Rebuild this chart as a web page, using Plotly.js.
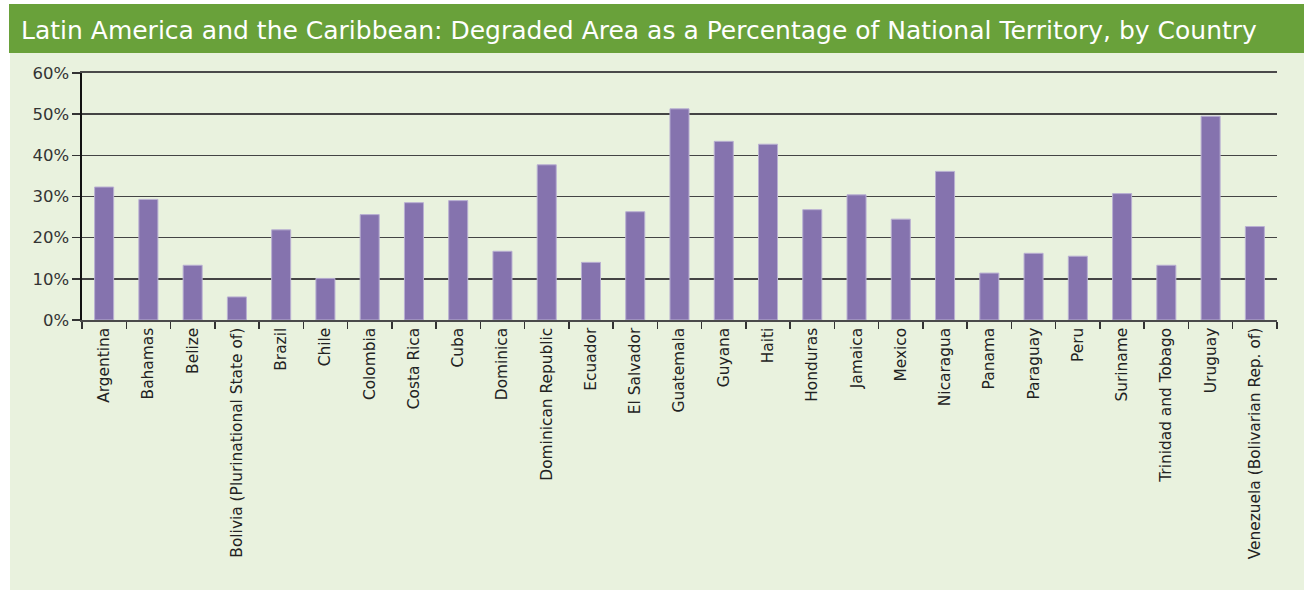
<!DOCTYPE html>
<html>
<head>
<meta charset="utf-8">
<script src="https://cdn.plot.ly/plotly-3.0.1.min.js"></script>
<style>
html,body{margin:0;padding:0;background:#ffffff;}
#chart{width:1304px;height:591px;}
</style>
</head>
<body>
<div id="chart"></div>
<script>
var countries = ["Argentina","Bahamas","Belize","Bolivia (Plurinational State of)","Brazil","Chile","Colombia","Costa Rica","Cuba","Dominica","Dominican Republic","Ecuador","El Salvador","Guatemala","Guyana","Haiti","Honduras","Jamaica","Mexico","Nicaragua","Panama","Paraguay","Peru","Suriname","Trinidad and Tobago","Uruguay","Venezuela (Bolivarian Rep. of)"];
var degradedShare = [32.3, 29.3, 13.3, 5.6, 21.9, 10.1, 25.6, 28.5, 29.0, 16.7, 37.7, 14.0, 26.3, 51.3, 43.4, 42.7, 26.8, 30.4, 24.5, 36.1, 11.4, 16.2, 15.5, 30.7, 13.3, 49.5, 22.7];
var yTickVals = [0, 10, 20, 30, 40, 50, 60];
var yTickText = ["0%", "10%", "20%", "30%", "40%", "50%", "60%"];
var chartTitle = "Latin America and the Caribbean: Degraded Area as a Percentage of National Territory, by Country";

var W = 1304, H = 591, ML = 82, MR = 27, MT = 73, MB = 271;
var PW = W - ML - MR, PH = H - MT - MB;
function px(x){ return (x - ML) / PW; }
function py(y){ return (H - MB - y) / PH; }

var FONT = "DejaVu Sans, Verdana, sans-serif";

var trace = {
  type: "bar",
  x: countries,
  y: degradedShare,
  marker: { color: "#8573ae", line: { color: "#b9b0d2", width: 1 } },
  hoverinfo: "x+y"
};

var layout = {
  width: W, height: H,
  margin: { l: ML, r: MR, t: MT, b: MB, pad: 0 },
  paper_bgcolor: "#ffffff",
  plot_bgcolor: "rgba(0,0,0,0)",
  showlegend: false,
  bargap: 0.57,
  title: {
    text: chartTitle,
    font: { family: FONT, size: 25, color: "#ffffff" },
    xref: "container", x: 21 / W, xanchor: "left",
    yref: "container", y: 1 - 30 / H, yanchor: "middle"
  },
  shapes: [
    { type: "rect", xref: "paper", yref: "paper", layer: "below",
      x0: px(10), x1: px(1304), y0: py(590), y1: py(53),
      fillcolor: "#e9f2de", line: { width: 0 } },
    { type: "rect", xref: "paper", yref: "paper", layer: "below",
      x0: px(9), x1: px(1304), y0: py(53), y1: py(4),
      fillcolor: "#69a13a", line: { width: 0 } }
  ],
  xaxis: {
    type: "category",
    tickangle: -90,
    tickson: "boundaries",
    ticks: "outside", ticklen: 7, tickwidth: 1.5, tickcolor: "#333333",
    showline: true, mirror: true, linecolor: "#4a4a4a", linewidth: 1.6,
    showgrid: false, zeroline: false,
    tickfont: { family: FONT, size: 15.4, color: "#222222" },
    automargin: false
  },
  yaxis: {
    range: [0, 60],
    tickvals: yTickVals, ticktext: yTickText,
    ticks: "outside", ticklen: 8, tickwidth: 1.5, tickcolor: "#333333",
    showline: true, linecolor: "#111111", linewidth: 1.6,
    showgrid: true, gridcolor: "#444444", gridwidth: 1.5,
    zeroline: false,
    tickfont: { family: FONT, size: 16.5, color: "#333333" },
    automargin: false,
    fixedrange: true
  }
};

Plotly.newPlot("chart", [trace], layout, { displayModeBar: false, staticPlot: true });
</script>
</body>
</html>
